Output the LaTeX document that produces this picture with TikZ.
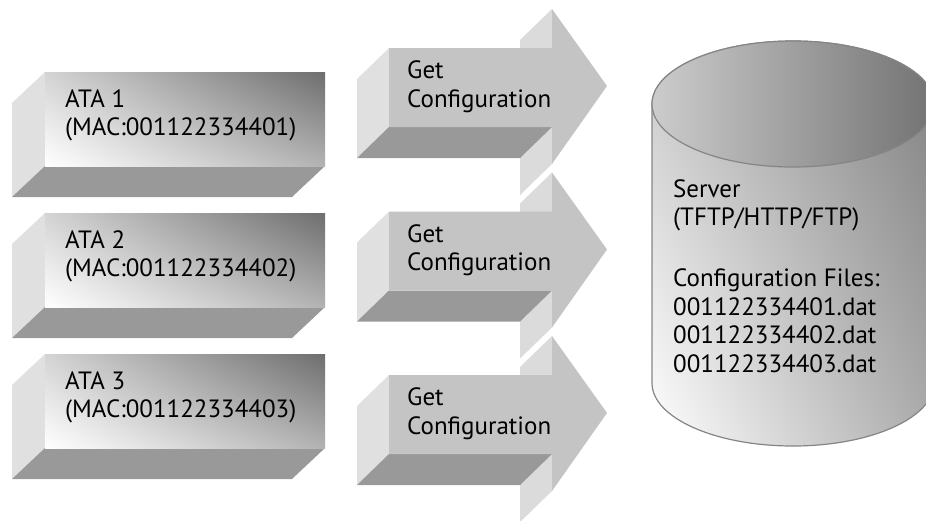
\documentclass[tikz,border=0pt]{standalone}
\usepackage{fontspec}
\setmainfont{PT Sans}
\usetikzlibrary{calc,shadings}

\tikzset{
  leftface/.style={fill=black!12},
  headface/.style={fill=black!14},
  bottomface/.style={fill=black!40},
  atafront/.style={upper left=black!17, upper right=black!57, lower left=white, lower right=black!30},
  arrowfront/.style={fill=black!23},
  cylbody/.style={upper left=black!22, upper right=black!50, lower left=white, lower right=black!33, draw=black!48, line width=1.2pt},
  cyltop/.style={left color=black!20, right color=black!55, draw=black!48, line width=1.2pt},
  nodetext/.style={anchor=base west, inner sep=0pt, align=left, font=\fontsize{25}{28.5}\selectfont},
}

% box in 3D, #1 = top of the front face (text sits on its last baseline)
\newcommand\atabox[3]{%
  \fill[leftface] (12,#1+31) -- (45,#1) -- (45,#1+94) -- (12,#1+125) -- cycle;
  \fill[bottomface] (45,#1+94) -- (325,#1+94) -- (292,#1+125) -- (12,#1+125) -- cycle;
  \shade[atafront] (45,#1) rectangle (325,#1+94);
  \node[nodetext] (#2) at (65,#1+63.5) {#3};
}

% fat arrow in 3D, #1 = top of the shaft
\newcommand\getarrow[2]{%
  \fill[headface] (520,#1-8) -- (552,#1-39) -- (552,#1+116) -- (520,#1+147) -- cycle;
  \fill[leftface] (357,#1+31) -- (389,#1) -- (389,#1+79) -- (357,#1+110) -- cycle;
  \fill[bottomface] (389,#1+79) -- (552,#1+79) -- (520,#1+110) -- (357,#1+110) -- cycle;
  \fill[arrowfront] (389,#1) -- (552,#1) -- (552,#1-39) -- (607,#1+38)
    -- (552,#1+116) -- (552,#1+79) -- (389,#1+79) -- cycle;
  \node[nodetext] (#2) at (407,#1+59) {Get\\Configuration};
}

\begin{document}
\begin{tikzpicture}[x=1pt, y=-1pt]
  \useasboundingbox (0,0) rectangle (926,520);
  \clip (0,0) rectangle (926,520);

  %%% clients
  \atabox{72}{ata1}{ATA 1\\(MAC:001122334401)}
  \atabox{213}{ata2}{ATA 2\\(MAC:001122334402)}
  \atabox{354}{ata3}{ATA 3\\(MAC:001122334403)}

  %%% requests
  \getarrow{48}{get1}
  \getarrow{211.5}{get2}
  \getarrow{375}{get3}

  %%% server
  \shadedraw[cylbody] (652,104) -- (652,383)
    arc[start angle=180, end angle=0, x radius=141, y radius=63]
    -- (934,104)
    arc[start angle=0, end angle=-180, x radius=141, y radius=63] -- cycle;
  \shadedraw[cyltop] (793,104) ellipse[x radius=141, y radius=63];
  \node[nodetext] (server) at (673,372) {Server\\(TFTP/HTTP/FTP)\\[32.5pt]Configuration Files:\\001122334401.dat\\001122334402.dat\\001122334403.dat};
\end{tikzpicture}
\end{document}
